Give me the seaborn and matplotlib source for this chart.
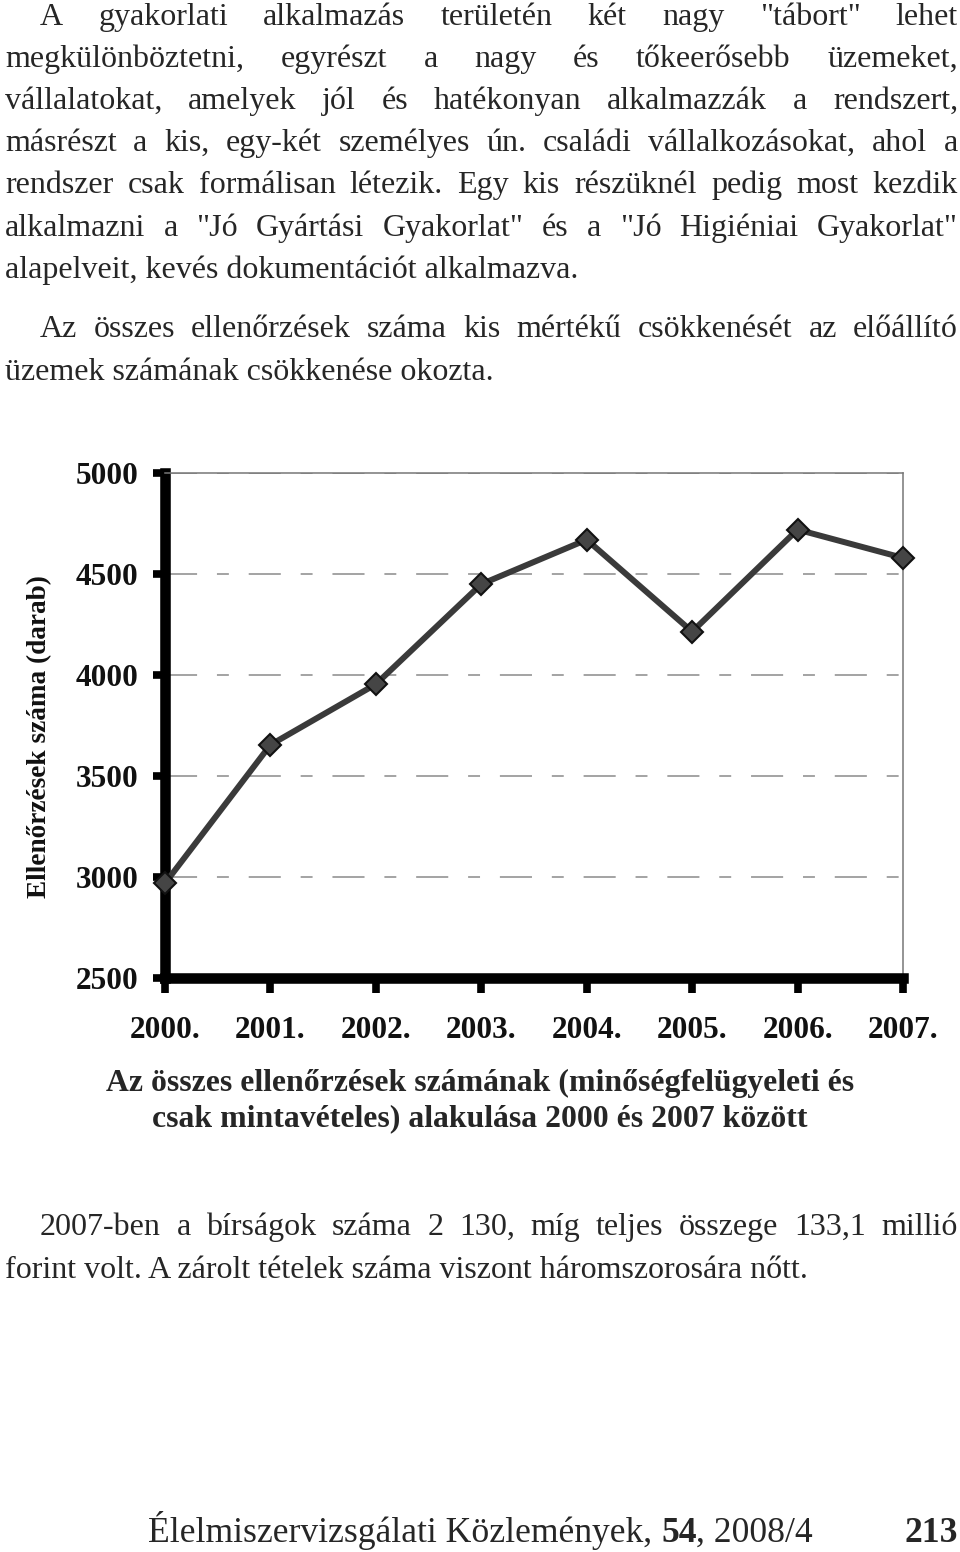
import matplotlib
matplotlib.use("Agg")
import matplotlib.pyplot as plt
import pandas as pd
import seaborn as sns

# ---------------- data ----------------
years = [2000, 2001, 2002, 2003, 2004, 2005, 2006, 2007]
inspections = [2970, 3655, 3955, 4450, 4670, 4215, 4720, 4580]
year_labels = ["2000.", "2001.", "2002.", "2003.", "2004.", "2005.", "2006.", "2007."]
y_ticks = [2500, 3000, 3500, 4000, 4500, 5000]
y_label = "Ellenőrzések száma (darab)"

para1 = [
    'A gyakorlati alkalmazás területén két nagy "tábort" lehet',
    'megkülönböztetni, egyrészt a nagy és tőkeerősebb üzemeket,',
    'vállalatokat, amelyek jól és hatékonyan alkalmazzák a rendszert,',
    'másrészt a kis, egy-két személyes ún. családi vállalkozásokat, ahol a',
    'rendszer csak formálisan létezik. Egy kis részüknél pedig most kezdik',
    'alkalmazni a "Jó Gyártási Gyakorlat" és a "Jó Higiéniai Gyakorlat"',
    'alapelveit, kevés dokumentációt alkalmazva.',
]
para2 = [
    'Az összes ellenőrzések száma kis mértékű csökkenését az előállító',
    'üzemek számának csökkenése okozta.',
]
caption = [
    'Az összes ellenőrzések számának (minőségfelügyeleti és',
    'csak mintavételes) alakulása 2000 és 2007 között',
]
para3 = [
    '2007-ben a bírságok száma 2 130, míg teljes összege 133,1 millió',
    'forint volt. A zárolt tételek száma viszont háromszorosára nőtt.',
]
footer_parts = [("Élelmiszervizsgálati Közlemények, ", "normal"), ("54", "bold"), (", 2008/4", "normal")]
page_number = "213"

# ---------------- setup ----------------
W, H = 960, 1552
sns.set_theme(style="white")
plt.rcParams["font.family"] = ["Liberation Serif", "DejaVu Serif"]

fig = plt.figure(figsize=(W / 100, H / 100), dpi=100)
fig.patch.set_facecolor("white")
r = fig.canvas.get_renderer()

# ---------------- chart ----------------
ax = fig.add_axes([165 / W, 1 - 978.3 / H, (903 - 165) / W, (978.3 - 473) / H])
df = pd.DataFrame({"year": years, "n": inspections})
sns.lineplot(data=df, x="year", y="n", ax=ax, color="#3a3a3a", linewidth=4.3,
             marker="D", markersize=11, markerfacecolor="#454545",
             markeredgecolor="#111111", markeredgewidth=1.5, clip_on=False, zorder=5)
ax.set_xlim(2000, 2007)
ax.set_ylim(2500, 5000)
ax.set_xticks(years)
ax.set_xticklabels(year_labels)
ax.set_yticks(y_ticks)
ax.set_yticklabels([str(v) for v in y_ticks])
ax.set_xlabel("")
ax.set_ylabel("")
ax.set_facecolor("white")
ax.grid(False)
ax.yaxis.grid(True, color="#8a8a8a", linewidth=1.1, linestyle=(0, (21, 13, 7.8, 13)))
ax.xaxis.grid(False)

for s in ["left", "bottom"]:
    ax.spines[s].set_linewidth(7.6)
    ax.spines[s].set_color("black")
for s in ["top", "right"]:
    ax.spines[s].set_linewidth(1.1)
    ax.spines[s].set_color("#777777")

ax.tick_params(axis="y", left=True, direction="out", length=9, width=5.5,
               color="black", pad=10, labelsize=22.5, labelcolor="#111111")
ax.tick_params(axis="x", bottom=True, direction="out", length=10.5, width=5.5,
               color="black", pad=17, labelsize=22.5, labelcolor="#111111")
for lab in ax.get_xticklabels() + ax.get_yticklabels():
    lab.set_fontweight("bold")
    lab.set_family(["Liberation Serif", "DejaVu Serif"])

# ---------------- text helpers ----------------
def fx(x):
    return x / W


def fy(y):
    return 1 - y / H


def text_width(t):
    return t.get_window_extent(renderer=r).width


def fit_size(s, target_px, weight="normal"):
    t = fig.text(0, 0, s, fontsize=10, fontweight=weight)
    w = text_width(t)
    t.remove()
    return 10 * target_px / w


def draw_line(s, x0, yb, pt, weight="normal", x1=None):
    if x1 is None:
        fig.text(fx(x0), fy(yb), s, fontsize=pt, fontweight=weight, va="baseline", ha="left")
        return
    words = s.split(" ")
    ts = [fig.text(0, fy(yb), w, fontsize=pt, fontweight=weight, va="baseline", ha="left")
          for w in words]
    ws = [text_width(t) for t in ts]
    gap = (x1 - x0 - sum(ws)) / (len(words) - 1)
    x = x0
    for t, w in zip(ts, ws):
        t.set_x(fx(x))
        x += w + gap


body_pt = 32 * 72 / 100
right = 958

# paragraph 1
baselines1 = [25, 67, 109, 151, 193, 236, 278]
for i, (line, yb) in enumerate(zip(para1, baselines1)):
    x0 = 40 if i == 0 else 5
    if i < len(para1) - 1:
        draw_line(line, x0, yb, body_pt, x1=right)
    else:
        draw_line(line, x0, yb, body_pt)

# paragraph 2
draw_line(para2[0], 40, 337, body_pt, x1=right)
draw_line(para2[1], 5, 380, body_pt)

# y label
yl_pt = fit_size(y_label, 325, "bold")
fig.text(fx(40), fy(737), y_label, fontsize=yl_pt, fontweight="bold", rotation=90,
         ha="center", va="center", color="#111111")

# caption
cap_pt = fit_size(caption[0], 750, "bold")
fig.text(fx(480), fy(1091), caption[0], fontsize=cap_pt, fontweight="bold", ha="center", va="baseline")
fig.text(fx(480), fy(1126), caption[1], fontsize=cap_pt, fontweight="bold", ha="center", va="baseline")

# paragraph 3
draw_line(para3[0], 40, 1235, body_pt, x1=right)
draw_line(para3[1], 5, 1278, body_pt)

# footer
full_footer = "".join(p for p, _ in footer_parts)
foot_pt = fit_size(full_footer, 665)
x = 148
for part, wgt in footer_parts:
    t = fig.text(fx(x), fy(1542), part, fontsize=foot_pt, fontweight=wgt, va="baseline", ha="left")
    x += text_width(t)
fig.text(fx(958), fy(1542), page_number, fontsize=foot_pt, fontweight="bold", va="baseline", ha="right")

fig.savefig("out.png", dpi=100, facecolor="white")
